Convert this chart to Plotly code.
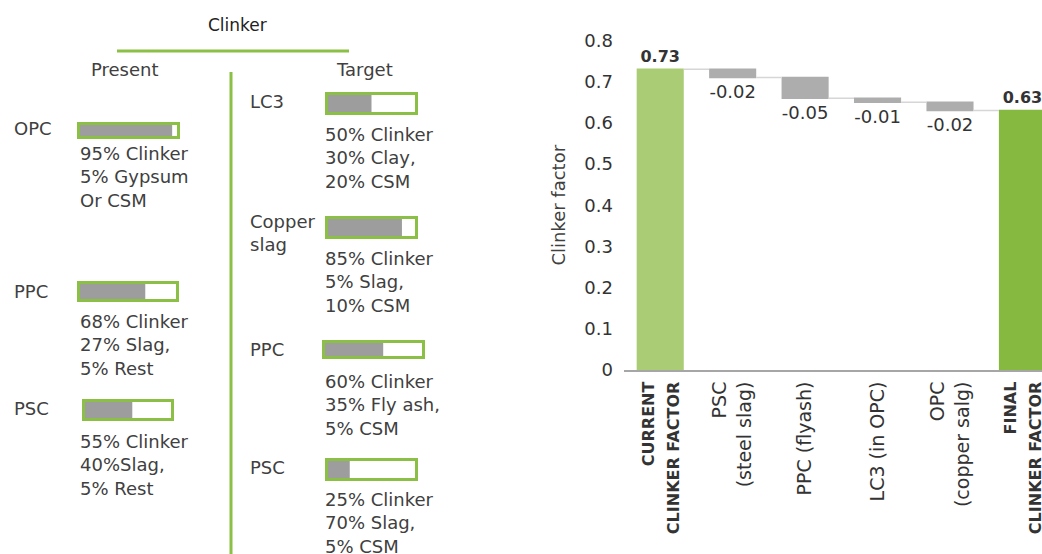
import plotly.graph_objects as go


def bold(s):
    return "<span style='font-size:16px'><b>%s</b></span>" % s


# waterfall data
steps = [bold("CURRENT<br>CLINKER FACTOR"), "PSC<br>(steel slag)", "PPC (flyash)",
         "LC3 (in OPC)", "OPC<br>(copper salg)", bold("FINAL<br>CLINKER FACTOR")]
step_values = [0.73, -0.02, -0.05, -0.01, -0.02, 0.63]
step_measure = ["relative", "relative", "relative", "relative", "relative", "total"]

# infographic data
present_types = ["OPC", "PPC", "PSC"]
present_clinker = [95, 68, 55]
present_mix = ["95% Clinker<br>5% Gypsum<br>Or CSM",
               "68% Clinker<br>27% Slag,<br>5% Rest",
               "55% Clinker<br>40%Slag,<br>5% Rest"]
target_types = ["LC3", "Copper<br>slag", "PPC", "PSC"]
target_clinker = [50, 85, 60, 25]
target_mix = ["50% Clinker<br>30% Clay,<br>20% CSM",
              "85% Clinker<br>5% Slag,<br>10% CSM",
              "60% Clinker<br>35% Fly ash,<br>5% CSM",
              "25% Clinker<br>70% Slag,<br>5% CSM"]

# layout positions for the infographic (pixel space of the left panel)
present_label_y = [130, 293, 410]
present_box = [(77, 180, 130.5, 17), (77, 179, 291.5, 21), (82, 174, 410, 22)]
present_mix_y = [179, 347, 467]
target_label_y = [103, 235, 351, 469]
target_box = [(325, 418, 103.5, 23), (325, 418, 227.5, 23), (322, 425, 349.5, 19), (325, 418, 469.5, 23)]
target_mix_y = [160, 284, 407, 525]

FONT = "DejaVu Sans"
TXT = "#404040"
GREEN = "#8cbf45"
W, H = 1042, 554

fig = go.Figure()

fig.add_trace(go.Waterfall(
    x=steps, y=step_values, measure=step_measure,
    text=[bold("%.2f" % v) if i in (0, len(step_values) - 1) else "%.2f" % v
          for i, v in enumerate(step_values)],
    textposition="outside", cliponaxis=False,
    textfont=dict(size=18, color="#333333", family=FONT),
    increasing=dict(marker=dict(color="#a9cc74")),
    decreasing=dict(marker=dict(color="#adadad")),
    totals=dict(marker=dict(color="#86b93f")),
    connector=dict(line=dict(color="#d6d6d6", width=1.5)),
    showlegend=False, xaxis="x", yaxis="y",
))


def add_group(types, clinker, mix, label_x, label_y, boxes, mix_x, mix_y):
    for (x0, x1, yc, h), pct in zip(boxes, clinker):
        fig.add_trace(go.Bar(
            y=[yc], x=[x1 - x0 - 3], base=[x0 + 1.5], width=[h - 3], orientation="h",
            marker=dict(color="white", line=dict(color=GREEN, width=3)),
            showlegend=False, xaxis="x2", yaxis="y2", hoverinfo="skip"))
        fig.add_trace(go.Bar(
            y=[yc], x=[(x1 - x0 - 6) * pct / 100], base=[x0 + 3], width=[h - 6], orientation="h",
            marker=dict(color="#9d9d9d", line=dict(width=0)),
            showlegend=False, xaxis="x2", yaxis="y2", hoverinfo="skip"))
    fig.add_trace(go.Scatter(
        x=[label_x] * len(types), y=label_y, text=types, mode="text",
        textposition="middle right", textfont=dict(size=18, color=TXT, family=FONT),
        showlegend=False, xaxis="x2", yaxis="y2", hoverinfo="skip"))
    fig.add_trace(go.Scatter(
        x=[mix_x] * len(mix), y=mix_y, text=mix, mode="text",
        textposition="middle right", textfont=dict(size=18, color=TXT, family=FONT),
        showlegend=False, xaxis="x2", yaxis="y2", hoverinfo="skip"))


add_group(present_types, present_clinker, present_mix, 14, present_label_y, present_box, 80, present_mix_y)
add_group(target_types, target_clinker, target_mix, 250, target_label_y, target_box, 325, target_mix_y)

fig.update_layout(
    width=W, height=H,
    margin=dict(l=0, r=0, t=0, b=0),
    paper_bgcolor="white", plot_bgcolor="white",
    font=dict(family=FONT, color=TXT, size=18),
    waterfallgap=0.35, barmode="overlay",
    xaxis=dict(domain=[624 / W, 1], range=[-0.5, 5.27], tickangle=-90,
               showline=True, linecolor="#a6a6a6", linewidth=2, ticks="",
               tickfont=dict(size=19, color="#333333"), ticklabelstandoff=2,
               showgrid=False, automargin=False, fixedrange=True),
    yaxis=dict(domain=[(H - 370) / H, (H - 40.5) / H], range=[0, 0.8], dtick=0.1,
               tickformat=".1~f", showgrid=False, zeroline=False, showline=False,
               ticks="", ticklabelstandoff=10, tickfont=dict(size=18, color="#333333"),
               title=dict(text="Clinker factor", font=dict(size=18, color=TXT), standoff=14),
               automargin=False),
    xaxis2=dict(domain=[0, 440 / W], range=[0, 440], visible=False, anchor="y2"),
    yaxis2=dict(domain=[0, 1], range=[H, 0], visible=False, anchor="x2"),
    shapes=[
        dict(type="line", xref="x2", yref="y2", x0=117, x1=349, y0=51, y1=51,
             line=dict(color=GREEN, width=3)),
        dict(type="line", xref="x2", yref="y2", x0=231, x1=231, y0=72, y1=H,
             line=dict(color=GREEN, width=3)),
    ],
    annotations=[
        dict(text="Clinker", xref="x2", yref="y2", x=237, y=25, showarrow=False,
             font=dict(size=17, color="#222222")),
        dict(text="Present", xref="x2", yref="y2", x=125, y=69, showarrow=False,
             font=dict(size=18, color=TXT)),
        dict(text="Target", xref="x2", yref="y2", x=364, y=69, showarrow=False,
             font=dict(size=18, color=TXT)),
    ],
)

# drop the default page margin so the figure sits at the window's corner
fig.write_html("out.html", config={"displayModeBar": False},
               post_script="document.body.style.margin='0';")
